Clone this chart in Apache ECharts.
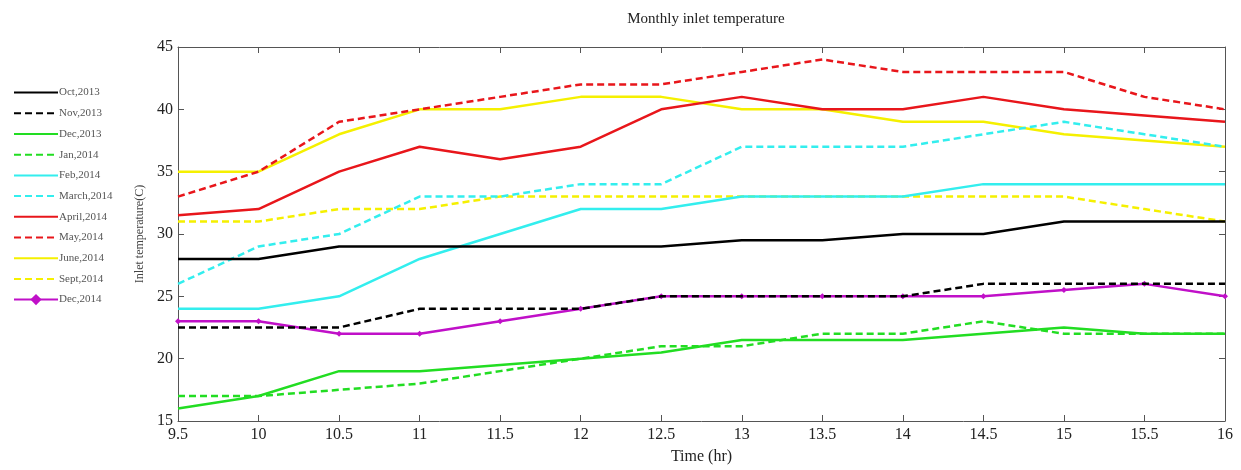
<!DOCTYPE html>
<html>
<head>
<meta charset="utf-8">
<script src="https://cdn.jsdelivr.net/npm/echarts@6/dist/echarts.min.js"></script>
<style>html,body{margin:0;padding:0;background:#fff}#c{width:1241px;height:470px}</style>
</head>
<body>
<div id="c"></div>
<script>
const times = [9.5, 10, 10.5, 11, 11.5, 12, 12.5, 13, 13.5, 14, 14.5, 15, 15.5, 16];
const oct2013  = [28, 28, 29, 29, 29, 29, 29, 29.5, 29.5, 30, 30, 31, 31, 31];
const nov2013  = [22.5, 22.5, 22.5, 24, 24, 24, 25, 25, 25, 25, 26, 26, 26, 26];
const dec2013  = [16, 17, 19, 19, 19.5, 20, 20.5, 21.5, 21.5, 21.5, 22, 22.5, 22, 22];
const jan2014  = [17, 17, 17.5, 18, 19, 20, 21, 21, 22, 22, 23, 22, 22, 22];
const feb2014  = [24, 24, 25, 28, 30, 32, 32, 33, 33, 33, 34, 34, 34, 34];
const mar2014  = [26, 29, 30, 33, 33, 34, 34, 37, 37, 37, 38, 39, 38, 37];
const apr2014  = [31.5, 32, 35, 37, 36, 37, 40, 41, 40, 40, 41, 40, 39.5, 39];
const may2014  = [33, 35, 39, 40, 41, 42, 42, 43, 44, 43, 43, 43, 41, 40];
const jun2014  = [35, 35, 38, 40, 40, 41, 41, 40, 40, 39, 39, 38, 37.5, 37];
const sep2014  = [31, 31, 32, 32, 33, 33, 33, 33, 33, 33, 33, 33, 32, 31];
const dec2014  = [23, 23, 22, 22, 23, 24, 25, 25, 25, 25, 25, 25.5, 26, 25];
const seriesNames = ['Oct,2013','Nov,2013','Dec,2013','Jan,2014','Feb,2014','March,2014','April,2014','May,2014','June,2014','Sept,2014','Dec,2014'];
const seriesData = [oct2013, nov2013, dec2013, jan2014, feb2014, mar2014, apr2014, may2014, jun2014, sep2014, dec2014];
const colors = ['#000000','#000000','#22dd22','#22dd22','#33eeee','#33eeee','#e8161b','#e8161b','#f5f000','#f5f000','#c010c8'];
const dashed = [false,true,false,true,false,true,false,true,false,true,false];
const hasMarker = [false,false,false,false,false,false,false,false,false,false,true];

const serif = '"Liberation Serif","DejaVu Serif",serif';
const series = seriesNames.map((n,i)=>({
  name: n, type: 'line',
  data: times.map((t,j)=>[t, seriesData[i][j]]),
  symbol: hasMarker[i] ? 'diamond' : 'none',
  symbolSize: 6,
  showSymbol: hasMarker[i],
  itemStyle: {color: colors[i]},
  lineStyle: {color: colors[i], width: 2.5, type: dashed[i] ? [7,4] : 'solid'},
  z: 10 - i*0.1,
  animation: false
}));

const chart = echarts.init(document.getElementById('c'), null, {renderer:'canvas'});
chart.setOption({
  animation: false,
  color: colors,
  title: {
    text: 'Monthly inlet temperature', left: 701, top: 7, textAlign: 'center',
    textStyle: {fontFamily: serif, fontSize: 15, fontWeight: 'normal', color: '#222'}
  },
  legend: {
    orient: 'vertical', left: 8, top: 82, itemWidth: 44, itemHeight: 14, itemGap: 9.5,
    textStyle: {fontFamily: serif, fontSize: 11, color: '#555', padding: [0,0,0,-4]},
    data: seriesNames.map((n,i)=> hasMarker[i] ? {name: n, itemStyle: {}} : {name: n, itemStyle: {opacity: 0}})
  },
  grid: {left: 178, right: 16, top: 47, bottom: 45, containLabel: false},
  xAxis: [{
    type: 'value', min: 9.5, max: 16, interval: 0.5,
    name: 'Time (hr)', nameLocation: 'middle', nameGap: 28,
    nameTextStyle: {fontFamily: serif, fontSize: 16, color: '#222'},
    axisLine: {show: true, onZero: false, lineStyle: {color: '#555', width: 1}},
    axisTick: {show: true, inside: true, length: 6, lineStyle: {color: '#555'}},
    axisLabel: {fontFamily: serif, fontSize: 16, color: '#222', margin: 6},
    splitLine: {show: false}
  }, {
    type: 'value', position: 'top', min: 9.5, max: 16, interval: 0.5,
    axisLine: {show: true, onZero: false, lineStyle: {color: '#555', width: 1}},
    axisTick: {show: true, inside: true, length: 6, lineStyle: {color: '#555'}},
    axisLabel: {show: false}, splitLine: {show: false}
  }],
  yAxis: [{
    type: 'value', min: 15, max: 45, interval: 5,
    name: 'Inlet temperature(C)', nameLocation: 'middle', nameGap: 29,
    nameTextStyle: {fontFamily: serif, fontSize: 12, color: '#444'},
    axisLine: {show: true, onZero: false, lineStyle: {color: '#555', width: 1}},
    axisTick: {show: true, inside: true, length: 6, lineStyle: {color: '#555'}},
    axisLabel: {fontFamily: serif, fontSize: 16, color: '#222', margin: 5},
    splitLine: {show: false}
  }, {
    type: 'value', position: 'right', min: 15, max: 45, interval: 5,
    axisLine: {show: true, onZero: false, lineStyle: {color: '#555', width: 1}},
    axisTick: {show: true, inside: true, length: 6, lineStyle: {color: '#555'}},
    axisLabel: {show: false}, splitLine: {show: false}
  }],
  series: series
});
</script>
</body>
</html>
